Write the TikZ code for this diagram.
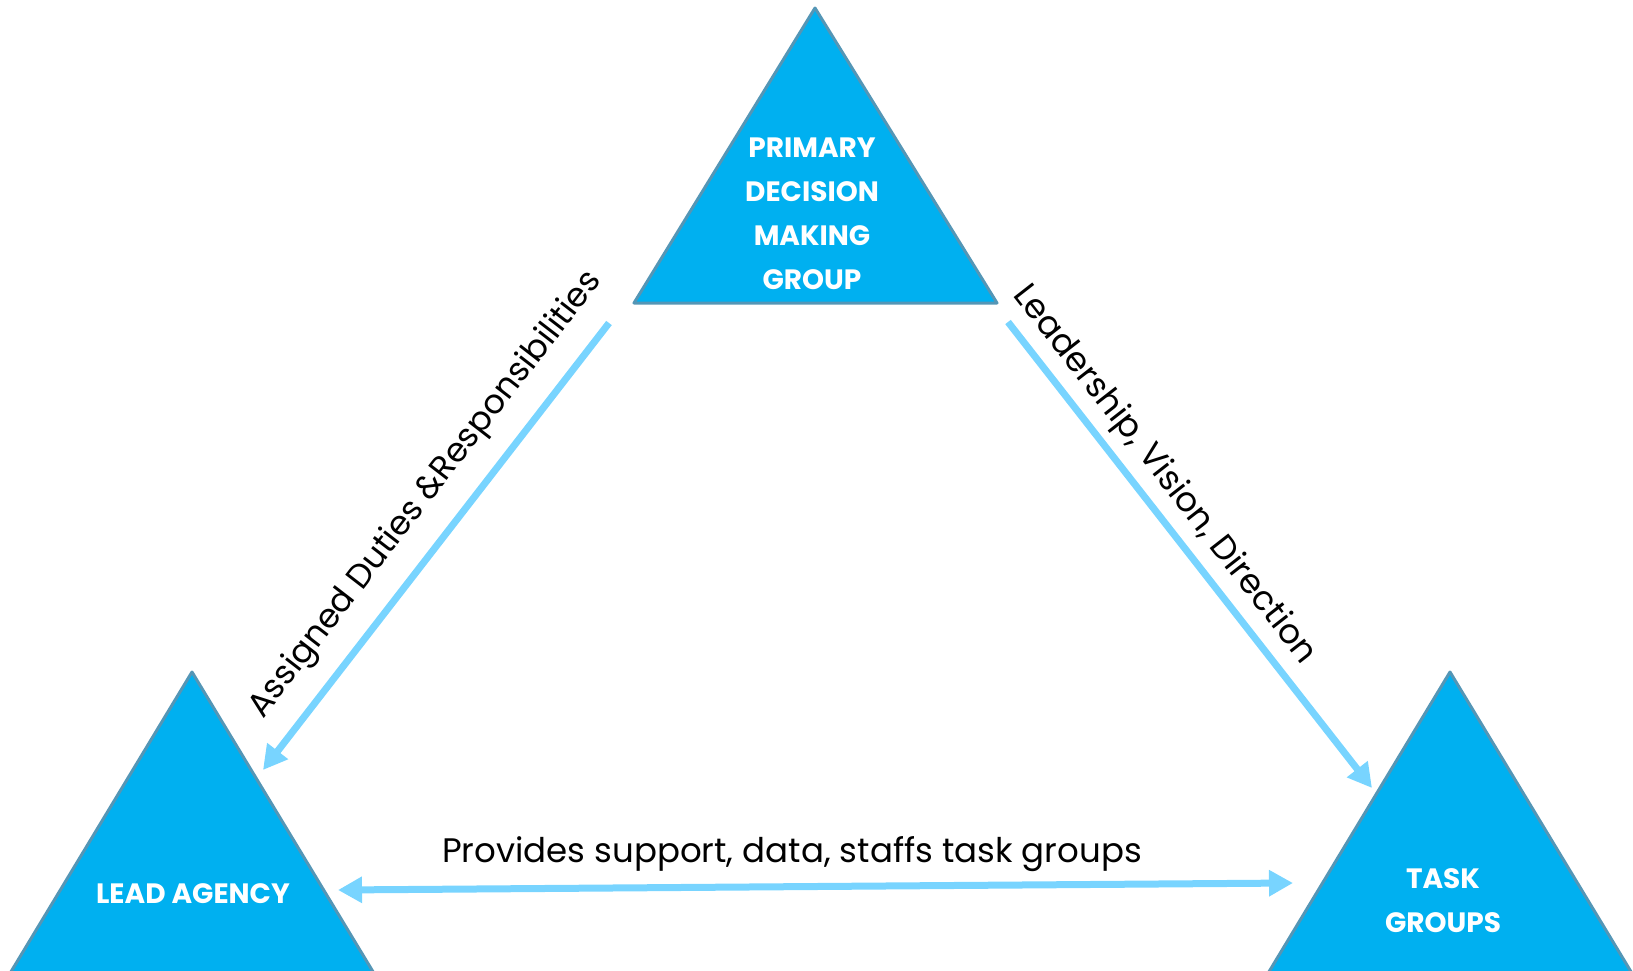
\documentclass[tikz,border=0pt]{standalone}
\usepackage{fontspec}
\setmainfont{Poppins}
\usetikzlibrary{arrows.meta}
\definecolor{trifill}{RGB}{0,176,240}
\definecolor{triedge}{RGB}{84,150,182}
\definecolor{arrowblue}{RGB}{120,212,255}
\tikzset{
  tri/.style={fill=trifill, draw=triedge, line width=1.5pt, line join=round},
  trilabel/.style={text=white, font=\bfseries\fontsize{14}{22}\selectfont, align=center, inner sep=0pt},
  conn/.style={draw=arrowblue, line width=3.5pt, -{Triangle[length=12pt,width=12.5pt]}},
  biconn/.style={draw=arrowblue, line width=3.5pt, {Triangle[length=12pt,width=12.5pt]}-{Triangle[length=12pt,width=12.5pt]}},
  edgelabel/.style={font=\fontsize{17}{20}\selectfont, inner sep=0pt}
}
\begin{document}
\begin{tikzpicture}[x=0.5pt,y=-0.5pt]
\useasboundingbox (0,0) rectangle (1633,970);
\clip (0,0) rectangle (1633,970);
% triangles
\draw[tri] (634,303) -- (815,8) -- (997,303) -- cycle;
\draw[tri] (9,975) -- (192,672) -- (375,975) -- cycle;
\draw[tri] (1267,975) -- (1450,672) -- (1633,975) -- cycle;
% labels inside triangles
\node[trilabel] (pdmg) at (812,214) {PRIMARY\\DECISION\\MAKING\\GROUP};
\node[trilabel] (lead) at (193,894) {LEAD AGENCY};
\node[trilabel] (task) at (1443,901) {TASK\\GROUPS};
% connector endpoints
\coordinate (a1) at (609,323);
\coordinate (a2) at (263,770);
\coordinate (b1) at (1008,322);
\coordinate (b2) at (1372,788);
\coordinate (c1) at (338,890);
\coordinate (c2) at (1293,883);
\draw[conn] (a1) -- (a2);
\draw[conn] (b1) -- (b2);
\draw[biconn] (c1) -- (c2);
% connector labels
\node[edgelabel, rotate=52.3] (la) at (426,495) {\fontsize{16.7}{20}\selectfont Assigned Duties \&Responsibilities};
\node[edgelabel, rotate=-52] (lb) at (1164,475) {Leadership, Vision, Direction};
\node[edgelabel] (lc) at (792,854) {Provides support, data, staffs task groups};
\end{tikzpicture}
\end{document}
